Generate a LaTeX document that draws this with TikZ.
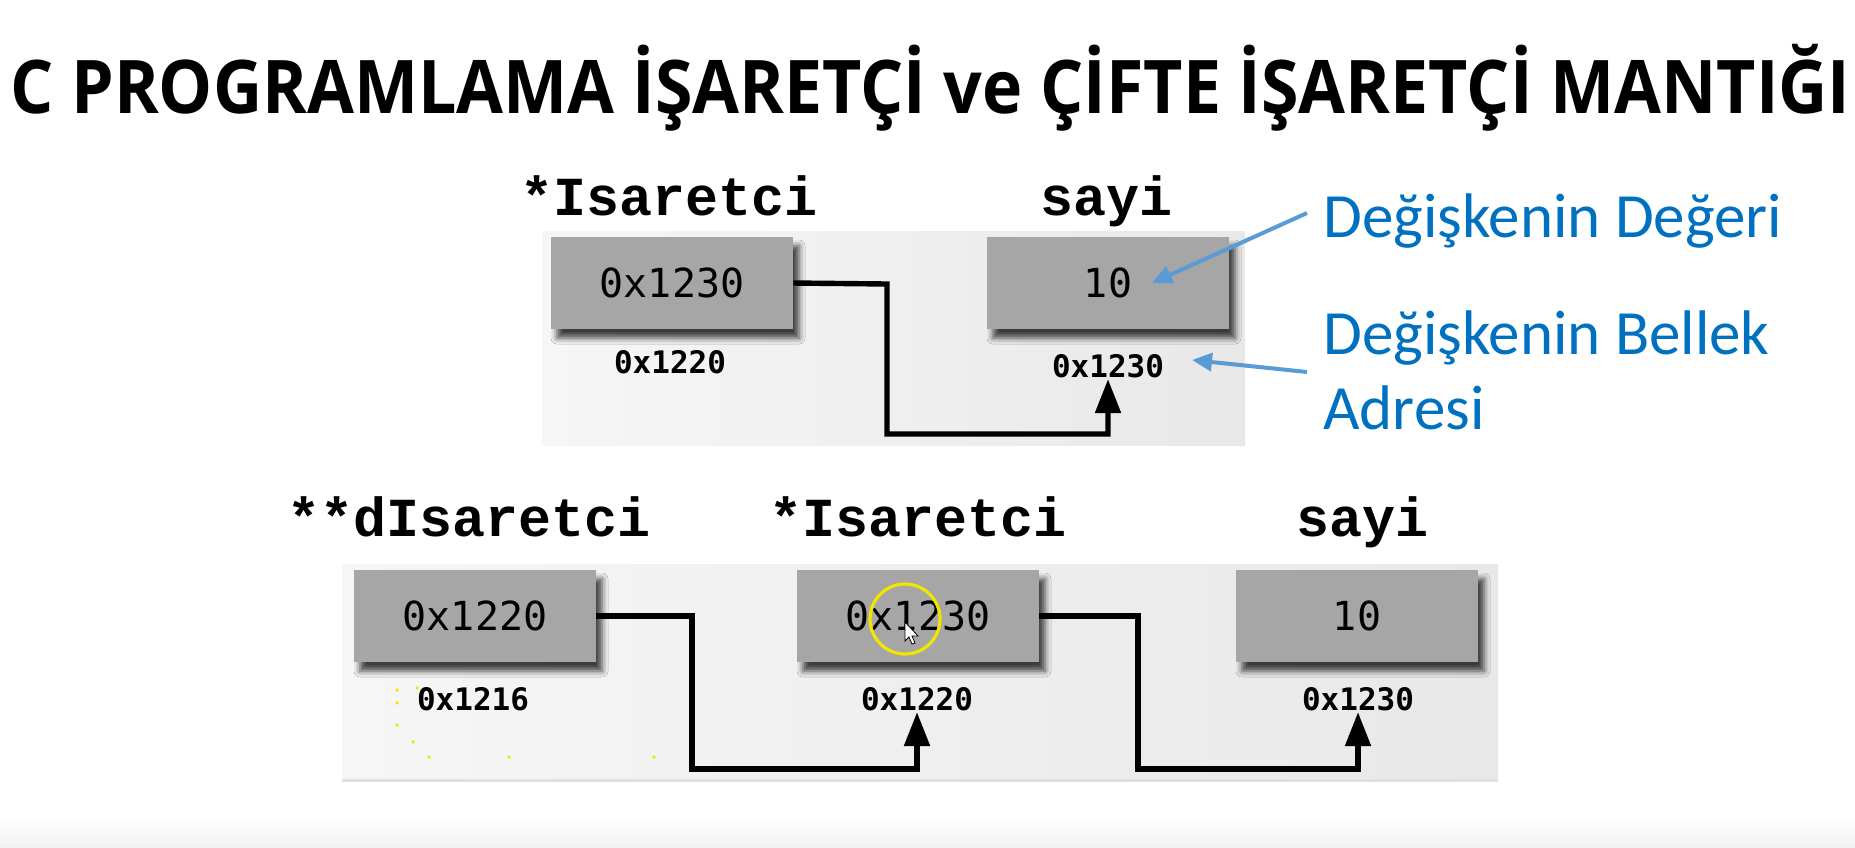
\documentclass[tikz,border=0pt]{standalone}
\usepackage{fontspec}
\setmainfont{Carlito}
\newfontfamily\headfont{Open Sans}
\newfontfamily\labelfont{Liberation Mono}
\newfontfamily\cellfont{DejaVu Sans Mono}
\usetikzlibrary{arrows.meta,shadows.blur}

\definecolor{cellgray}{HTML}{A6A6A6}
\definecolor{panelL}{HTML}{F6F6F6}
\definecolor{panelR}{HTML}{E8E8E8}
\definecolor{noteblue}{HTML}{0070C0}
\definecolor{notearrow}{HTML}{5B9BD5}
\definecolor{hiyellow}{HTML}{F2E600}

\tikzset{
  panel/.style={left color=panelL, right color=panelR, draw=none},
  cell/.style={fill=cellgray, draw=none, minimum width=121pt, minimum height=46pt,
    inner sep=0pt, font=\cellfont\fontsize{20}{24}\selectfont,
    blur shadow={shadow xshift=3pt, shadow yshift=-4.5pt, shadow blur radius=3pt, shadow opacity=75}},
  varname/.style={anchor=base, inner sep=0pt, font=\labelfont\bfseries\fontsize{27.5}{30}\selectfont},
  addr/.style={inner xsep=0pt, inner ysep=0.5pt, font=\cellfont\bfseries\fontsize{15.5}{18}\selectfont},
  link/.style={line width=2.7pt, -{Triangle[length=17pt,width=12.5pt]}},
  note/.style={anchor=base west, inner sep=0pt, text=noteblue, font=\fontsize{31.5}{37.5}\selectfont},
  noteline/.style={draw=notearrow, line width=2pt, -{Triangle[length=10pt,width=9pt]}},
}

\begin{document}
\begin{tikzpicture}[x=0.5pt,y=-0.5pt]
  \useasboundingbox (0,0) rectangle (1855,847);
  \fill[white] (0,0) rectangle (1855,847);
  \shade[top color=white, bottom color=black!5] (0,815) rectangle (1855,847);

  % heading
  \node[anchor=base west, inner sep=0pt] (title) at (10,113)
    {\resizebox{920pt}{\height}{\headfont\bfseries\fontsize{37}{42}\selectfont C PROGRAMLAMA İŞARETÇİ ve ÇİFTE İŞARETÇİ MANTIĞI}};

  % ---------- single pointer ----------
  \fill[panel] (542,231) rectangle (1245,445);

  \node[varname] (n1) at (669,215) {*Isaretci};
  \node[varname] (n2) at (1106,215) {sayi};

  \node[cell] (p1) at (672,283) {0x1230};
  \node[cell] (v1) at (1108,283) {10};

  \node[addr] (a1) at (670,362) {0x1220};
  \node[addr] (a2) at (1108,366) {0x1230};

  \draw[link] (p1.east) -- (887,284) -- (887,434) -| (a2.south);

  % notes on the right
  \node[note] (t1) at (1323,237) {Değişkenin Değeri};
  \node[note, align=left, anchor=north west] (t2) at (1323,310) {Değişkenin Bellek\\Adresi};

  \coordinate (t1s) at (1307,213);
  \coordinate (t2s) at (1307,372);
  \draw[noteline] (t1s) -- (1152,283);
  \draw[noteline] (t2s) -- (1192,360);

  % ---------- double pointer ----------
  \fill[panel] (342,564) rectangle (1498,781);
  \fill[black!12] (342,779) rectangle (1498,782);

  \node[varname] (m1) at (469,536) {**dIsaretci};
  \node[varname] (m2) at (918,536) {*Isaretci};
  \node[varname] (m3) at (1362,536) {sayi};

  \node[cell] (q1) at (475,616) {0x1220};
  \node[cell] (q2) at (918,616) {0x1230};
  \node[cell] (q3) at (1357,616) {10};

  \node[addr] (b1) at (473,699) {0x1216};
  \node[addr] (b2) at (917,699) {0x1220};
  \node[addr] (b3) at (1358,699) {0x1230};

  \draw[link] (q1.east) -- (692,616) -- (692,769) -| (b2.south);
  \draw[link] (q2.east) -- (1138,616) -- (1138,769) -| (b3.south);

  % pointer highlight and cursor
  \draw[hiyellow, line width=1.6pt] (905,619) circle[radius=35];
  \filldraw[fill=white, draw=black, line width=0.4pt]
    (905,622) -- (905,641) -- (909,637) -- (912,644) -- (915,643) -- (912,636) -- (918,636) -- cycle;

  % stray highlight specks
  \foreach \p in {(397,690),(397,703),(397,725),(413,742),(429,757),(509,757),(417,688),(654,757)}
    \fill[hiyellow] \p circle[radius=1.8];
\end{tikzpicture}
\end{document}
